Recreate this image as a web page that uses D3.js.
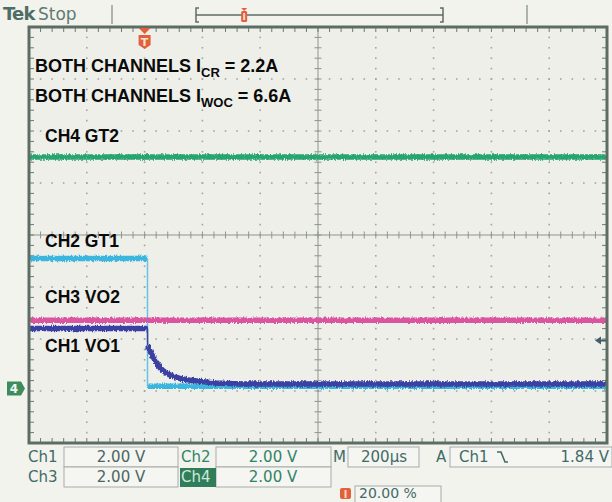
<!DOCTYPE html>
<html><head><meta charset="utf-8">
<script src="https://cdn.jsdelivr.net/npm/d3@7/dist/d3.min.js"></script>
<style>
html,body{margin:0;padding:0;background:#f3f3ee;}
svg{display:block;}
</style></head>
<body>
<svg id="c" width="612" height="502"></svg>
<script>
// ---------- data (time in µs, values in volts, 2 V/div, trigger at 20 %) ----------
const timeDomain = [-400, 1600];           // 200 µs/div, 10 divisions
const voltsPerDiv = 2.0;
const groundDiv = -2.95;                    // ground reference position (divisions from centre)

const ch4Time  = [-400, 1600];
const ch4Volts = [8.9, 8.9];

const ch2Time  = [-400, 10, 10, 1600];
const ch2Volts = [5.0, 5.0, 0.08, 0.08];

const ch3Time  = [-400, 1600];
const ch3Volts = [2.62, 2.62];

const ch1Time  = [-400, 10, 10.5, 21, 38, 55, 72, 90, 124, 159, 193, 245, 331, 1600];
const ch1Volts = [2.3, 2.3, 1.65, 1.38, 1.04, 0.77, 0.62, 0.50, 0.38, 0.31, 0.27, 0.21, 0.17, 0.17];

const triggerLevel = 1.84;

const labels = ["CH4 GT2", "CH2 GT1", "CH3 VO2", "CH1 VO1"];

const row1 = ["Ch1", "2.00 V", "Ch2", "2.00 V", "M", "200µs", "A", "Ch1", "1.84 V"];
const row2 = ["Ch3", "2.00 V", "Ch4", "2.00 V"];
const triggerPos = "20.00 %";

// ---------- layout ----------
const L = 29, R = 607, T = 27, B = 443;
const svg = d3.select("#c");
const x = d3.scaleLinear().domain(timeDomain).range([L, R]);
const yDiv = d3.scaleLinear().domain([-4, 4]).range([B, T]);
const yV = v => yDiv(v / voltsPerDiv + groundDiv);

const defs = svg.append("defs");
const f = defs.append("filter").attr("id","noise").attr("filterUnits","userSpaceOnUse")
  .attr("x",0).attr("y",0).attr("width",612).attr("height",502);
f.append("feTurbulence").attr("type","fractalNoise").attr("baseFrequency","0.9 0.3").attr("numOctaves",2).attr("seed",3).attr("result","t");
f.append("feDisplacementMap").attr("in","SourceGraphic").attr("in2","t").attr("scale",4).attr("xChannelSelector","R").attr("yChannelSelector","G");
const clip = defs.append("clipPath").attr("id","plot");
clip.append("rect").attr("x",L).attr("y",T).attr("width",R-L).attr("height",B-T);

// background of graticule
svg.append("rect").attr("x",L).attr("y",T).attr("width",R-L).attr("height",B-T).attr("fill","#efefe9");

const g = svg.append("g");
const xMinor = d3.range(timeDomain[0], timeDomain[1] + 1, 40);
const xMajor = d3.range(timeDomain[0], timeDomain[1] + 1, 200);
const yMinor = d3.range(-4, 4.001, 0.2);
const yMajor = d3.range(-4, 4.001, 1);

// dotted grid
xMajor.slice(1, -1).forEach(t => {
  if (t === 600) return;
  yMinor.slice(1,-1).forEach(d => {
    g.append("rect").attr("x", x(t)-0.8).attr("y", yDiv(d)-0.8).attr("width",1.6).attr("height",1.6).attr("fill","#a3a6a0");
  });
});
yMajor.slice(1, -1).forEach(d => {
  if (d === 0) return;
  xMinor.slice(1,-1).forEach(t => {
    g.append("rect").attr("x", x(t)-0.8).attr("y", yDiv(d)-0.8).attr("width",1.6).attr("height",1.6).attr("fill","#a3a6a0");
  });
});
// centre axes with ticks
const cx = x(600), cy = yDiv(0);
g.append("line").attr("x1",L).attr("x2",R).attr("y1",cy).attr("y2",cy).attr("stroke","#8e948f").attr("stroke-width",1);
g.append("line").attr("x1",cx).attr("x2",cx).attr("y1",T).attr("y2",B).attr("stroke","#8e948f").attr("stroke-width",1);
xMinor.forEach(t => g.append("line").attr("x1",x(t)).attr("x2",x(t)).attr("y1",cy-3.5).attr("y2",cy+3.5).attr("stroke","#8e948f"));
yMinor.forEach(d => g.append("line").attr("y1",yDiv(d)).attr("y2",yDiv(d)).attr("x1",cx-3.5).attr("x2",cx+3.5).attr("stroke","#8e948f"));
// frame ticks
xMinor.forEach(t => {
  g.append("line").attr("x1",x(t)).attr("x2",x(t)).attr("y1",T).attr("y2",T+5).attr("stroke","#6c7a72");
  g.append("line").attr("x1",x(t)).attr("x2",x(t)).attr("y1",B-5).attr("y2",B).attr("stroke","#6c7a72");
});
yMinor.forEach(d => {
  g.append("line").attr("y1",yDiv(d)).attr("y2",yDiv(d)).attr("x1",L).attr("x2",L+5).attr("stroke","#6c7a72");
  g.append("line").attr("y1",yDiv(d)).attr("y2",yDiv(d)).attr("x1",R-5).attr("x2",R).attr("stroke","#6c7a72");
});

// traces
const traces = svg.append("g").attr("clip-path","url(#plot)");
const line = d3.line().x(d => x(d[0])).y(d => yV(d[1]));
function seg(ts, vs, color, w, fuzzy) {
  const pts = ts.map((t,i) => [t, vs[i]]);
  const p = traces.append("path").attr("d", line(pts)).attr("fill","none").attr("stroke",color)
     .attr("stroke-width", w).attr("stroke-linejoin","round");
  if (fuzzy) p.attr("filter","url(#noise)");
}
seg(ch4Time, ch4Volts, "#27a56f", 5.5, true);
seg(ch2Time.slice(0,2), ch2Volts.slice(0,2), "#3cb6df", 5.5, true);
seg(ch2Time.slice(1,3), ch2Volts.slice(1,3), "#62c4e4", 1.5, false);
seg(ch2Time.slice(2,4), ch2Volts.slice(2,4), "#3cb6df", 5.5, true);
seg(ch3Time, ch3Volts, "#d9559f", 5.5, true);
seg(ch1Time.slice(0,2), ch1Volts.slice(0,2), "#3a40a2", 5.5, true);
seg(ch1Time.slice(1,3), ch1Volts.slice(1,3), "#3a40a2", 1.5, false);
seg(ch1Time.slice(2), ch1Volts.slice(2), "#3a40a2", 5.5, true);

// frame border
svg.append("rect").attr("x",L).attr("y",T).attr("width",R-L).attr("height",B-T).attr("fill","none").attr("stroke","#5d6d64").attr("stroke-width",3);

// trigger position marker
const tx = x(0);
svg.append("path").attr("d",`M${tx-6},${T+1} L${tx+6},${T+1} L${tx},${T+7} Z`).attr("fill","#e2603a");
svg.append("path").attr("d",`M${tx-6},${T+8} L${tx+6},${T+8} L${tx+6},${T+18} L${tx},${T+22} L${tx-6},${T+18} Z`).attr("fill","#e2603a");
svg.append("text").attr("x",tx).attr("y",T+19).attr("text-anchor","middle").attr("fill","#fbe3d6").attr("font-family","DejaVu Sans").attr("font-weight","bold").attr("font-size",11).text("T");

// ground marker "4"
const gy = yDiv(groundDiv);
svg.append("path").attr("d",`M7,${gy-7} L21,${gy-7} L25,${gy} L21,${gy+7} L7,${gy+7} Z`).attr("fill","#3d8c5f");
svg.append("text").attr("x",14).attr("y",gy+4.5).attr("text-anchor","middle").attr("fill","#eef6ef").attr("font-family","DejaVu Sans").attr("font-weight","bold").attr("font-size",12).text("4");

// trigger level arrow
const ty = yV(triggerLevel);
svg.append("path").attr("d",`M${R-12},${ty} L${R-6},${ty-4} L${R-6},${ty+4} Z`).attr("fill","#3f5d6b");
svg.append("line").attr("x1",R-7).attr("x2",R-1).attr("y1",ty).attr("y2",ty).attr("stroke","#3f5d6b").attr("stroke-width",2);

// annotations
const ann = svg.append("g").attr("font-family","Liberation Sans, Arial, sans-serif").attr("font-weight","bold").attr("fill","#0a0a0a");
const a1 = ann.append("text").attr("x",35).attr("y",72).attr("font-size",18);
a1.append("tspan").text("BOTH CHANNELS I");
a1.append("tspan").attr("font-size",13).attr("dy",5).text("CR");
a1.append("tspan").attr("dy",-5).text(" = 2.2A");
const a2 = ann.append("text").attr("x",35).attr("y",102).attr("font-size",18);
a2.append("tspan").text("BOTH CHANNELS I");
a2.append("tspan").attr("font-size",13).attr("dy",5).text("WOC");
a2.append("tspan").attr("dy",-5).text(" = 6.6A");
const labelY = [142, 247, 303, 352];
labels.forEach((l,i) => ann.append("text").attr("x",45).attr("y",labelY[i]).attr("font-size",17.5).text(l));

// top status bar
const topBar = svg.append("g").attr("font-family","DejaVu Sans, sans-serif");
topBar.append("text").attr("x",3).attr("y",20).attr("font-size",18).attr("font-weight","bold").attr("fill","#4e6d65").attr("letter-spacing",-0.8).text("Tek");
topBar.append("text").attr("x",38).attr("y",20).attr("font-size",17).attr("fill","#607a73").text("Stop");
[112, 527].forEach(sx => topBar.append("line").attr("x1",sx).attr("x2",sx).attr("y1",5).attr("y2",24).attr("stroke","#7d8a84").attr("stroke-width",1.2));
const bx0 = 196, bx1 = 443, by = 15;
topBar.append("line").attr("x1",bx0).attr("x2",bx1).attr("y1",by).attr("y2",by).attr("stroke","#5d6d64").attr("stroke-width",1.5);
[[bx0,1],[bx1,-1]].forEach(([bx,s]) => {
  topBar.append("path").attr("d",`M${bx+3*s},8 L${bx},8 L${bx},22 L${bx+3*s},22`).attr("fill","none").attr("stroke","#5d6d64").attr("stroke-width",1.5);
});
const tm = bx0 + (bx1 - bx0) * 0.195;
topBar.append("path").attr("d",`M${tm-3},8 L${tm+3},8 L${tm},11 Z`).attr("fill","#e2603a");
topBar.append("rect").attr("x",tm-3).attr("y",11).attr("width",6).attr("height",11).attr("rx",1.5).attr("fill","#e2603a");
topBar.append("rect").attr("x",tm-1).attr("y",13).attr("width",2).attr("height",7).attr("fill","#f7d8c8");

// bottom readout
const bot = svg.append("g").attr("font-family","DejaVu Sans, sans-serif").attr("font-size",15);
const boxStroke = "#a5aca8";
function box(x0, x1, y0, y1) {
  bot.append("rect").attr("x",x0).attr("y",y0).attr("width",x1-x0).attr("height",y1-y0).attr("fill","#f5f5f1").attr("stroke",boxStroke).attr("stroke-width",1);
}
box(64,178,447,467); box(216,331,447,467); box(348,419,447,467); box(450,612,447,467);
box(64,178,467,487); box(216,331,467,487);
box(355,441,486,505);
const lab = "#3f6b66", val1 = "#4b6662", val2 = "#2f8468";
bot.append("text").attr("x",28).attr("y",462).attr("fill",lab).text(row1[0]);
bot.append("text").attr("x",121).attr("y",462).attr("text-anchor","middle").attr("fill",val1).text(row1[1]);
bot.append("text").attr("x",181).attr("y",462).attr("fill",val2).text(row1[2]);
bot.append("text").attr("x",273).attr("y",462).attr("text-anchor","middle").attr("fill",val2).text(row1[3]);
bot.append("text").attr("x",333).attr("y",462).attr("fill",lab).text(row1[4]);
bot.append("text").attr("x",384).attr("y",462).attr("text-anchor","middle").attr("fill",lab).text(row1[5]);
bot.append("text").attr("x",436).attr("y",462).attr("fill",lab).text(row1[6]);
bot.append("text").attr("x",459).attr("y",462).attr("fill",lab).text(row1[7]);
bot.append("path").attr("d","M497,452 L501,452 L505,462 L508,462").attr("fill","none").attr("stroke",lab).attr("stroke-width",1.6);
bot.append("text").attr("x",609).attr("y",462).attr("text-anchor","end").attr("fill",lab).text(row1[8]);
bot.append("text").attr("x",28).attr("y",482).attr("fill",lab).text(row2[0]);
bot.append("text").attr("x",121).attr("y",482).attr("text-anchor","middle").attr("fill",val1).text(row2[1]);
bot.append("rect").attr("x",180).attr("y",468).attr("width",36).attr("height",19).attr("fill","#2f7d5a");
bot.append("text").attr("x",181).attr("y",482).attr("fill","#cfe8d9").text(row2[2]);
bot.append("text").attr("x",273).attr("y",482).attr("text-anchor","middle").attr("fill",val2).text(row2[3]);
bot.append("rect").attr("x",340).attr("y",488).attr("width",11).attr("height",11).attr("rx",2).attr("fill","#e2603a");
bot.append("rect").attr("x",344.5).attr("y",490).attr("width",2).attr("height",8).attr("fill","#f7d8c8");
bot.append("text").attr("x",359).attr("y",498).attr("font-size",14).attr("fill",lab).text(triggerPos);
</script>
</body></html>
